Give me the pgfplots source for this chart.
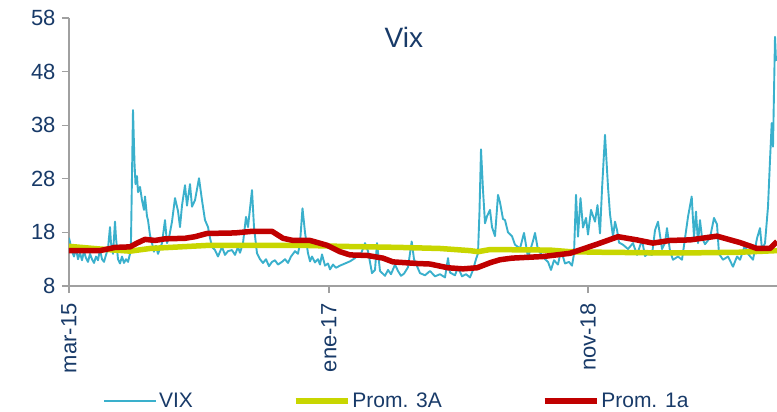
\documentclass[border=0pt]{standalone}
\usepackage{pgfplots}
\pgfplotsset{compat=1.18}
\usepackage{fontspec}
\setmainfont{Liberation Sans}

\definecolor{navy}{RGB}{24,58,104}
\definecolor{vixblue}{RGB}{58,176,204}
\definecolor{lime}{RGB}{200,214,0}
\definecolor{darkred}{RGB}{192,0,0}
\definecolor{axgray}{RGB}{160,160,160}

% x is a time index on the chart's own scale: 69 = mar-15, 329 = ene-17, 588 = nov-18
\pgfplotstableread{
x v
69 17.0
72 14.5
74 13.5
76 15.0
78 13.0
80 14.2
82 12.8
84 14.5
86 13.2
88 12.5
90 14.0
92 13.0
94 12.3
96 13.5
98 12.8
100 14.8
102 13.0
104 12.5
106 13.8
108 15.0
110 19.0
111 16.0
113 14.0
115 20.0
116 17.0
118 13.0
120 12.2
122 13.5
124 12.3
126 13.0
128 12.5
130 14.0
131 16.5
133 40.8
134.5 31.0
135.5 27.0
137 28.5
138 25.5
140 26.5
142 24.0
144 22.2
145 24.7
147 21.0
148 20.3
150 17.5
152 16.0
154 14.4
156 15.5
158 14.0
160 15.0
162 16.0
165 20.3
167 16.0
169 17.0
172 20.0
175 24.4
178 22.0
180 19.0
182 23.0
185 26.8
187 23.0
190 27.0
192 22.8
195 24.0
199 28.1
202 24.0
205 20.3
208 19.0
210 17.0
212 15.3
215 14.7
218 13.5
222 15.3
225 13.8
228 14.5
232 14.7
235 13.8
238 15.3
240 14.2
243 16.0
246 20.9
248 19.0
252 25.9
254 19.0
257 14.1
260 13.0
263 12.3
266 13.0
269 11.7
272 12.5
275 12.8
278 12.0
282 12.5
285 13.0
288 12.3
291 13.5
295 14.5
298 14.0
300 16.0
302.5 22.5
305 18.0
308 14.1
310 12.6
312 13.5
315 12.4
318 13.0
320 12.0
322 13.9
325 11.8
328 12.2
330 11.1
333 12.0
336 11.4
340 11.8
345 12.2
350 12.6
355 13.2
358 14.0
360 13.5
365 16.0
368 14.5
372 10.4
375 11.0
377 16.0
380 10.8
385 9.9
388 11.0
391 10.2
395 12.0
398 10.8
401 9.9
404 10.3
408 11.5
411.7 16.3
414 13.0
420 10.4
425 10.0
430 10.8
435 9.8
440 10.2
445 9.6
448 13.2
450 10.5
455 10.0
458 11.5
462 9.8
466 10.2
470 9.6
473 11.0
476 13.0
478 14.1
479.5 22.0
481 33.5
483 25.9
485 19.7
487 21.0
490 22.2
492 19.0
495 17.3
498 25.0
500 23.6
503 20.5
505 20.3
508 18.0
512 17.3
515 15.7
520 15.0
524 17.9
527 14.5
528 13.3
533 16.4
535 17.9
538 14.7
542 13.8
545 13.0
548 12.5
551 11.0
554 12.8
558 12.0
561 14.7
565 12.2
569 12.5
572 11.8
574 14.0
576 25.0
578 17.2
580.5 24.4
583 18.9
586 20.7
588 17.6
591 22.2
595 20.0
597.5 23.1
600 17.8
602 26.0
605 36.2
608 26.5
610 21.4
613 17.2
615 20.0
617 18.5
619 16.1
623 15.7
628 14.9
633 16.0
637 13.8
642 16.6
645 13.6
648 14.0
652 13.8
655 18.4
658 20.0
662 14.9
665 16.0
667 18.8
670 14.5
673 12.9
678 13.5
682 12.9
688 20.9
691.7 24.7
694 17.0
696 21.9
698 16.0
700 20.3
702 17.0
705 15.8
710 17.0
714 20.7
717 19.5
719 14.0
723 12.9
728 13.5
733 11.6
737 13.5
740 12.9
745 15.6
748 14.0
753 12.9
757 16.9
760 18.8
762 14.8
765 16.0
768 22.8
770 31.5
771.7 38.4
773 34.0
775 54.5
776 50.0
}\vix

\pgfplotstableread{
x v
69 15.4
100 14.9
130 14.5
150 15.0
180 15.3
210 15.6
260 15.6
300 15.6
340 15.4
400 15.2
440 15.0
470 14.6
478 14.4
490 14.8
550 14.7
570 14.4
600 14.3
650 14.2
700 14.2
740 14.3
777 14.6
}\promtres

\pgfplotstableread{
x v
69 14.6
100 14.6
115 15.2
130 15.3
137 16.0
145 16.7
155 16.5
165 16.8
185 16.9
195 17.2
207 17.8
235 17.9
252 18.2
272 18.2
283 16.9
293 16.5
310 16.5
327 15.6
340 14.4
350 13.8
367 13.7
383 13.2
393 12.5
417 12.2
430 12.1
448 11.4
463 11.2
477 11.4
491 12.4
500 12.9
512 13.2
543 13.5
570 14.1
597 15.8
618 17.2
637 16.6
653 16.0
670 16.5
690 16.6
717 17.3
740 16.1
757 15.0
770 15.0
777 16.3
}\promuno

\begin{document}
\begin{tikzpicture}
\begin{axis}[
  scale only axis, width=708bp, height=268bp,
  xmin=69, xmax=777, ymin=8, ymax=58,
  ytick={8,18,28,38,48,58},
  xtick={69,329,588}, xticklabels={mar-15,ene-17,nov-18},
  axis lines*=left, axis line style={axgray, line width=1.2bp},
  tick align=outside, major tick length=7bp,
  tick style={axgray, line width=1.2bp},
  /pgf/number format/assume math mode=true,
  tick label style={font=\fontsize{22bp}{26bp}\selectfont, text=navy},
  x tick label style={yshift=-7bp, rotate=90, anchor=east},
  yticklabel style={xshift=-3bp},
  title={Vix},
  title style={at={(0.473,0.905)}, anchor=center, font=\fontsize{28bp}{32bp}\selectfont, text=navy},
  legend columns=3,
  legend style={at={(0.463,-0.429)}, anchor=center, draw=none, fill=none,
    font=\fontsize{21bp}{25bp}\selectfont, text=navy,
    /tikz/every even column/.append style={column sep=98bp}},
  legend image code/.code={\draw[#1] (0bp,0bp) -- (52bp,0bp);},
]
\addplot[vixblue, line width=1.9bp, line join=round] table[x=x, y=v] {\vix};
\addlegendentry{VIX}
\addplot[lime, line width=5.5bp, line join=round] table[x=x, y=v] {\promtres};
\addlegendentry{Prom. 3A}
\addplot[darkred, line width=5.5bp, line join=round] table[x=x, y=v] {\promuno};
\addlegendentry{Prom. 1a}
\end{axis}
\pgfresetboundingbox
\path[use as bounding box] ([shift={(-69bp,-126bp)}]current axis.south west) rectangle ([shift={(0bp,18bp)}]current axis.north east);
\end{tikzpicture}
\end{document}
